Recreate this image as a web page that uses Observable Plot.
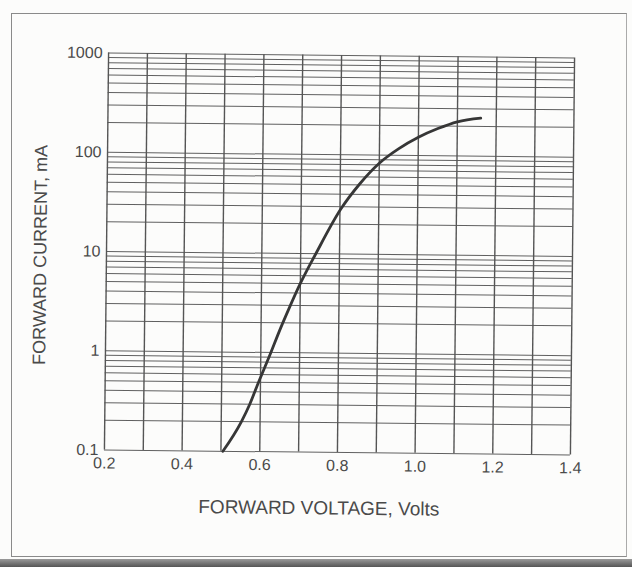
<!DOCTYPE html>
<html>
<head>
<meta charset="utf-8">
<script src="https://cdn.jsdelivr.net/npm/d3@7"></script>
<script src="https://cdn.jsdelivr.net/npm/@observablehq/plot@0.6"></script>
<style>
  html, body { margin: 0; padding: 0; background: #fcfcfb; }
  #page { position: relative; width: 632px; height: 567px; overflow: hidden; font-family: "Liberation Sans", Arial, sans-serif; }
  #page svg { position: absolute; left: 0; top: 0; transform-origin: 339px 253.5px; transform: rotate(0.6deg); }
  .box { position: absolute; left: 11px; top: 13px; width: 614px; height: 542px; border: 1.5px solid #8a8a8a; border-right-color: #aaa; pointer-events: none; }
  .scanedge { position: absolute; left: 0; bottom: 0; width: 632px; height: 8px; background: linear-gradient(#9a9a9a, #555); pointer-events: none; }
</style>
</head>
<body>
<div id="page"></div>
<script>
// Forward voltage (V) vs forward current (mA)
const voltage = [0.505, 0.552, 0.573, 0.595, 0.626, 0.646, 0.67, 0.70, 0.739, 0.803, 0.85, 0.90, 0.95, 1.00, 1.05, 1.10, 1.16];
const current = [0.1, 0.2, 0.3, 0.5, 1.0, 1.6, 2.7, 5.0, 10, 28.7, 51, 83, 117, 153, 188, 221, 242];

// Axis ticks
const xTicks = [0.2, 0.4, 0.6, 0.8, 1.0, 1.2, 1.4];
const yTicks = [0.1, 1, 10, 100, 1000];

// Grid paper lines
const xGrid = [0.2, 0.3, 0.4, 0.5, 0.6, 0.7, 0.8, 0.9, 1.0, 1.1, 1.2, 1.3, 1.4];
const decades = [0.1, 1, 10, 100];
const multipliers = [1, 2, 3, 4, 5, 6, 7, 8, 9];
const yGrid = decades.flatMap(d => multipliers.map(m => +(d * m).toPrecision(3))).concat([1000]);

const data = voltage.map((v, i) => ({v, i: current[i]}));

const chart = Plot.plot({
  width: 632,
  height: 567,
  marginLeft: 106,
  marginRight: 60,
  marginTop: 55,
  marginBottom: 115,
  style: {background: "transparent", fontFamily: "Liberation Sans, Arial, sans-serif", overflow: "visible"},
  x: {domain: [0.2, 1.4]},
  y: {type: "log", domain: [0.1, 1000]},
  marks: [
    Plot.ruleY(yGrid, {y: d => d, stroke: "#606060", strokeWidth: 1}),
    Plot.ruleX(xGrid, {x: d => d, stroke: "#555", strokeWidth: 1.4}),
    Plot.axisX({ticks: xTicks, tickSize: 0, tickPadding: 7, fontSize: 16, fill: "#4a4a4a",
      tickFormat: d => d.toFixed(1), label: null}),
    Plot.axisY({ticks: yTicks, tickSize: 0, tickPadding: 6, fontSize: 16, fill: "#4a4a4a",
      tickFormat: d => String(d), label: null}),
    Plot.line(data, {x: "v", y: "i", curve: "monotone-x", stroke: "#363636", strokeWidth: 2.8}),
    Plot.text(["FORWARD VOLTAGE, Volts"], {frameAnchor: "bottom", dx: -18, dy: 62, text: d => d, fontSize: 19, fill: "#4a4a4a"}),
    Plot.text(["FORWARD CURRENT, mA"], {frameAnchor: "left", textAnchor: "middle", dx: -66, dy: 4, rotate: -90, text: d => d, fontSize: 18, fill: "#4a4a4a"})
  ]
});

const page = document.getElementById("page");
page.appendChild(chart);
const box = document.createElement("div"); box.className = "box"; page.appendChild(box);
const edge = document.createElement("div"); edge.className = "scanedge"; page.appendChild(edge);
</script>
</body>
</html>
